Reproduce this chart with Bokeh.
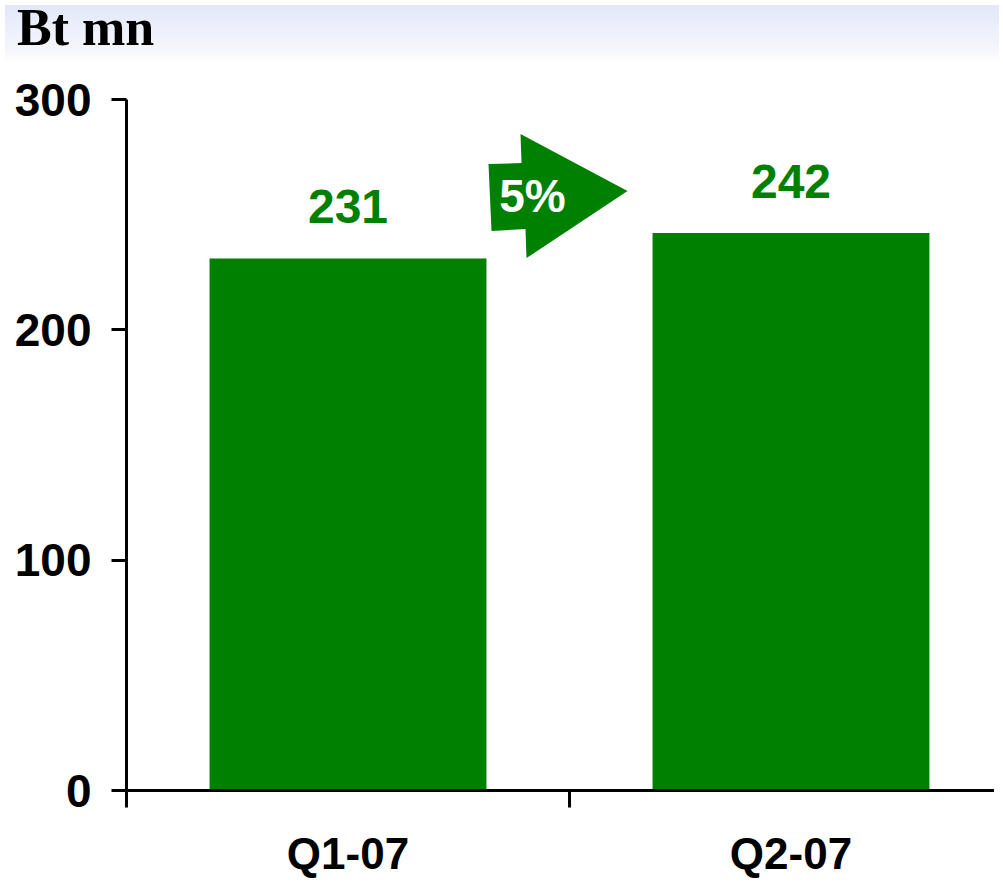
from bokeh.plotting import figure
from bokeh.models import Range1d, FixedTicker, Span, Div
from bokeh.layouts import column
from bokeh.embed import file_html
from bokeh.resources import INLINE
from bokeh.core.properties import value

# ---------------- data ----------------
categories = ["Q1-07", "Q2-07"]
values = [231, 242]
y_ticks = [0, 100, 200, 300]
unit_label = "Bt mn"

# ---------------- styling / layout ----------------
GREEN = "#008000"
FONT = "Liberation Sans"
FIG_W = 994
TITLE_H = 57
FIG_H = 811
BORDER_LEFT = 126
BORDER_TOP = 32
CAT_PX = 443          # pixels per category slot
Y_MAX = 300
PLOT_PX = 691         # pixels spanned by 0..Y_MAX

frame_w = FIG_W - BORDER_LEFT
frame_h = FIG_H - BORDER_TOP
px_per_unit = PLOT_PX / Y_MAX
y_start = Y_MAX - frame_h / px_per_unit
x_end = frame_w / CAT_PX


def dy(px):
    return px / px_per_unit


def dx(px):
    return px / CAT_PX


p = figure(width=FIG_W, height=FIG_H,
           x_range=Range1d(0, x_end), y_range=Range1d(y_start, Y_MAX),
           output_backend="svg", toolbar_location=None, x_axis_location=None,
           min_border_left=BORDER_LEFT, min_border_top=BORDER_TOP,
           min_border_right=0, min_border_bottom=0)
p.outline_line_color = None
p.grid.visible = False
p.background_fill_color = "white"
p.border_fill_color = "white"

centers = [i + 0.5 for i in range(len(categories))]
boundaries = [i + 1 for i in range(len(categories))]

# bars
p.vbar(x=centers, top=values, bottom=0, width=0.625, color=GREEN, line_color=None)

# value labels
p.text(x=centers, y=[v + dy(52) for v in values], text=[str(v) for v in values],
       text_align="center", text_baseline="middle",
       text_font=value(FONT), text_font_style="bold", text_font_size="48px",
       text_color=GREEN)

# x axis line and category boundary ticks
p.add_layout(Span(location=0, dimension="width", line_color="black", line_width=3))
p.segment(x0=boundaries, y0=[0] * len(boundaries), x1=boundaries,
          y1=[-dy(17)] * len(boundaries), line_color="black", line_width=3)

# category labels
p.text(x=centers, y=[-dy(63)] * len(centers), text=categories,
       text_align="center", text_baseline="middle",
       text_font=value(FONT), text_font_style="bold", text_font_size="44px",
       text_color="black")

# growth arrow
anchor_x = boundaries[0]
anchor_y = max(values)
arrow_px = [(-81, -69), (-48, -70), (-49, -99), (58, -42), (-43, 25), (-44, -4), (-78, -2)]
p.patch(x=[anchor_x + dx(a) for a, b in arrow_px],
        y=[anchor_y - dy(b) for a, b in arrow_px],
        fill_color=GREEN, line_color=None)
growth = round((values[1] - values[0]) / values[0] * 100)
p.text(x=[anchor_x + dx(-37)], y=[anchor_y - dy(-37)], text=[f"{growth}%"],
       text_align="center", text_baseline="middle",
       text_font=value(FONT), text_font_style="bold", text_font_size="46px",
       text_color="white")

# y axis
ya = p.yaxis[0]
ya.ticker = FixedTicker(ticks=y_ticks)
ya.bounds = (-dy(17), Y_MAX)
ya.major_tick_out = 15
ya.major_tick_in = 0
ya.minor_tick_out = 0
ya.minor_tick_in = 0
ya.axis_line_width = 3
ya.axis_line_color = "black"
ya.major_tick_line_width = 3
ya.major_tick_line_color = "black"
ya.major_label_standoff = 20
ya.major_label_text_font = FONT
ya.major_label_text_font_style = "bold"
ya.major_label_text_font_size = "46px"
ya.major_label_text_color = "black"

title = Div(
    text=(f'<div style="font-family:\'Liberation Serif\';font-weight:bold;'
          f'font-size:52px;line-height:52px;color:#000;position:relative;'
          f'top:-3px;padding-left:12px;">{unit_label}</div>'),
    width=FIG_W, height=TITLE_H,
    styles={"background": "linear-gradient(to bottom, #E2E8FA 0%, #F6F7FC 80%, #FFFFFF 100%)"})

layout = column(title, p, spacing=0)
open("out.html", "w").write(file_html(layout, INLINE))
